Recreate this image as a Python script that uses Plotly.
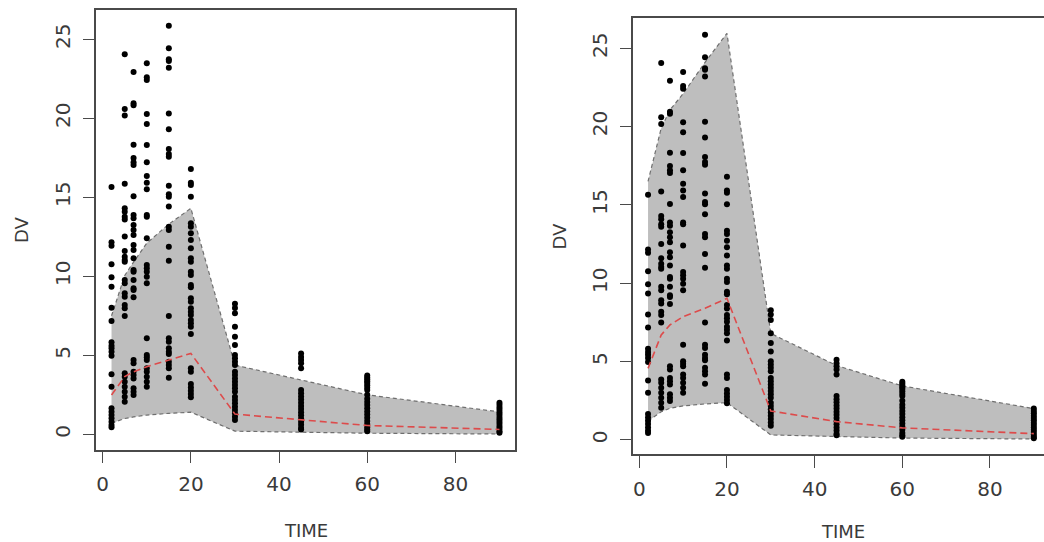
import plotly.graph_objects as go

# ---------------- data ----------------
times = [2, 5, 7, 10, 15, 20, 30, 45, 60, 90]

dv_t2 = [15.65, 12.15, 11.94, 10.76, 9.94, 9.34, 8.01, 7.17, 5.82, 5.61, 5.44, 5.23, 4.97,
         3.8, 3.01, 1.65, 1.43, 1.22, 1.01, 0.8, 0.59, 0.44]
dv_t5 = [24.05, 20.59, 20.17, 15.86, 14.3, 14.09, 13.77, 13.6, 12.51, 11.6, 11.24, 11.03,
         10.92, 9.77, 9.56, 8.92, 8.71, 8.18, 7.97, 7.49, 3.86, 3.65, 3.33, 3.01, 2.7, 2.38, 2.06]
dv_t7 = [22.93, 20.95, 20.82, 18.33, 17.49, 17.22, 17.04, 15.06, 13.88, 13.67, 13.25, 12.93,
         12.61, 11.98, 11.66, 11.14, 10.4, 10.29, 9.77, 9.24, 9.13, 8.67, 4.7, 4.49, 3.96,
         3.75, 3.54, 2.91, 2.7, 2.49]
dv_t10 = [23.48, 22.59, 22.42, 20.27, 19.64, 18.31, 17.22, 16.35, 15.92, 15.5, 13.88, 13.77,
          12.41, 10.72, 10.51, 10.29, 9.97, 9.56, 6.08, 5.02, 4.87, 4.7, 4.18, 3.96, 3.65,
          3.33, 3.01]
dv_t15 = [25.86, 24.43, 23.73, 23.63, 23.2, 20.3, 19.3, 18.06, 17.74, 17.57, 15.73, 15.19,
          15.04, 14.41, 13.14, 12.93, 11.87, 10.99, 7.49, 6.08, 5.86, 5.44, 5.23, 5.08, 4.6,
          4.39, 4.18, 3.58]
dv_t20 = [16.79, 15.92, 15.78, 15.04, 13.35, 13.14, 12.72, 12.3, 11.77, 11.14, 10.92, 10.29,
          10.08, 9.45, 9.3, 8.61, 8.39, 7.97, 7.76, 7.55, 7.23, 7.03, 6.81, 6.35, 4.18, 3.96,
          3.18, 2.97, 2.76, 2.55, 2.34]
dv_t30 = [8.27, 8.0, 7.66, 6.81, 6.18, 5.65, 5.02, 4.81, 4.6, 4.39, 3.96, 3.75, 3.54, 3.33,
          3.12, 2.91, 2.7, 2.38, 2.17, 1.96, 1.75, 1.54, 1.33, 1.12, 0.9]
dv_t45 = [5.12, 4.9, 4.7, 4.49, 4.18, 2.8, 2.6, 2.4, 2.2, 2.0, 1.8, 1.6, 1.4, 1.2, 1.0, 0.8,
          0.6, 0.4, 0.3]
dv_t60 = [3.72, 3.6, 3.48, 3.36, 3.25, 3.1, 2.95, 2.8, 2.5, 2.25, 2.05, 1.85, 1.65, 1.45,
          1.25, 1.05, 0.85, 0.65, 0.45, 0.3, 0.2]
dv_t90 = [2.0, 1.85, 1.7, 1.55, 1.4, 1.25, 1.1, 0.95, 0.8, 0.65, 0.5, 0.35, 0.2, 0.1]

dv_by_time = [dv_t2, dv_t5, dv_t7, dv_t10, dv_t15, dv_t20, dv_t30, dv_t45, dv_t60, dv_t90]

# left panel prediction band
upper1 = [7.5, 10.05, 10.9, 12.1, 13.3, 14.3, 4.38, 3.45, 2.5, 1.42]
median1 = [2.49, 3.65, 3.96, 4.28, 4.7, 5.12, 1.28, 0.92, 0.56, 0.31]
lower1 = [0.7, 1.0, 1.1, 1.22, 1.33, 1.4, 0.2, 0.12, 0.07, 0.02]

# right panel prediction band
upper2 = [16.5, 19.9, 21.06, 22.1, 24.1, 25.95, 6.8, 4.75, 3.45, 2.0]
median2 = [4.57, 6.7, 7.34, 7.87, 8.4, 9.04, 1.85, 1.17, 0.77, 0.4]
lower2 = [1.2, 1.8, 2.02, 2.17, 2.3, 2.38, 0.32, 0.21, 0.12, 0.06]

x_ticks = [0, 20, 40, 60, 80]
y_ticks = [0, 5, 10, 15, 20, 25]
x_title = "TIME"
y_title = "DV"

# ---------------- build ----------------
obs_x = [t for t, vals in zip(times, dv_by_time) for _ in vals]
obs_y = [v for vals in dv_by_time for v in vals]

W, H = 1044, 542
fig = go.Figure()

BAND = "#bebebe"
EDGE = "#6f6f6f"
RED = "#dd4b4b"
AX = "#4a4a4a"
TXT = "#3a3a3a"
FONT = "DejaVu Sans"


def add_panel(xa, ya, upper, median, lower):
    fig.add_trace(go.Scatter(
        x=times + times[::-1], y=upper + lower[::-1], fill="toself",
        fillcolor=BAND, line=dict(width=0), mode="lines",
        xaxis=xa, yaxis=ya, hoverinfo="skip", showlegend=False))
    for band in (upper, lower):
        fig.add_trace(go.Scatter(
            x=times, y=band, mode="lines",
            line=dict(color=EDGE, width=1.2, dash="4px,3px"),
            xaxis=xa, yaxis=ya, showlegend=False))
    fig.add_trace(go.Scatter(
        x=obs_x, y=obs_y, mode="markers",
        marker=dict(color="black", size=6, line=dict(width=0)),
        xaxis=xa, yaxis=ya, showlegend=False))
    fig.add_trace(go.Scatter(
        x=times, y=median, mode="lines",
        line=dict(color=RED, width=1.6, dash="7px,4px"),
        xaxis=xa, yaxis=ya, showlegend=False))


add_panel("x", "y", upper1, median1, lower1)
add_panel("x2", "y2", upper2, median2, lower2)

common_x = dict(tickvals=x_ticks, ticks="outside", ticklen=12, tickwidth=1.4,
                tickcolor=AX, showline=True, linecolor=AX, linewidth=1.6,
                showgrid=False, zeroline=False,
                tickfont=dict(family=FONT, size=20, color=TXT),
                ticklabelstandoff=4)
common_y = dict(tickvals=y_ticks, ticks="outside", ticklen=11, tickwidth=1.4,
                tickcolor=AX, showline=True, linecolor=AX, linewidth=1.6,
                showgrid=False, zeroline=False, tickangle=-90,
                tickfont=dict(family=FONT, size=20, color=TXT),
                ticklabelstandoff=5)

fig.update_layout(
    width=W, height=H, margin=dict(l=0, r=0, t=0, b=0),
    paper_bgcolor="white", plot_bgcolor="white", showlegend=False,
    xaxis=dict(domain=[96 / W, 515 / W], range=[-1.52, 93.52], anchor="y",
               mirror=True, **common_x),
    yaxis=dict(domain=[1 - 449.5 / H, 1 - 10 / H], range=[-0.96, 26.85], anchor="x",
               mirror=True, **common_y),
    xaxis2=dict(domain=[632.7 / W, 1.0], range=[-1.5, 92.32], anchor="y2",
                mirror=True, **common_x),
    yaxis2=dict(domain=[1 - 454.2 / H, 1 - 18.3 / H], range=[-0.91, 26.91], anchor="x2",
                mirror=False, **common_y),
)

title_font = dict(family=FONT, size=18, color=TXT)
for (xc, yc, txt, ang) in [
    (305.5, 530, x_title, 0), (21, 230, y_title, -90),
    (843, 531, x_title, 0), (559, 236.5, y_title, -90),
]:
    fig.add_annotation(x=xc / W, y=1 - yc / H, xref="paper", yref="paper",
                       text=txt, showarrow=False, textangle=ang,
                       xanchor="center", yanchor="middle", font=title_font)

fig.write_html("out.html")
